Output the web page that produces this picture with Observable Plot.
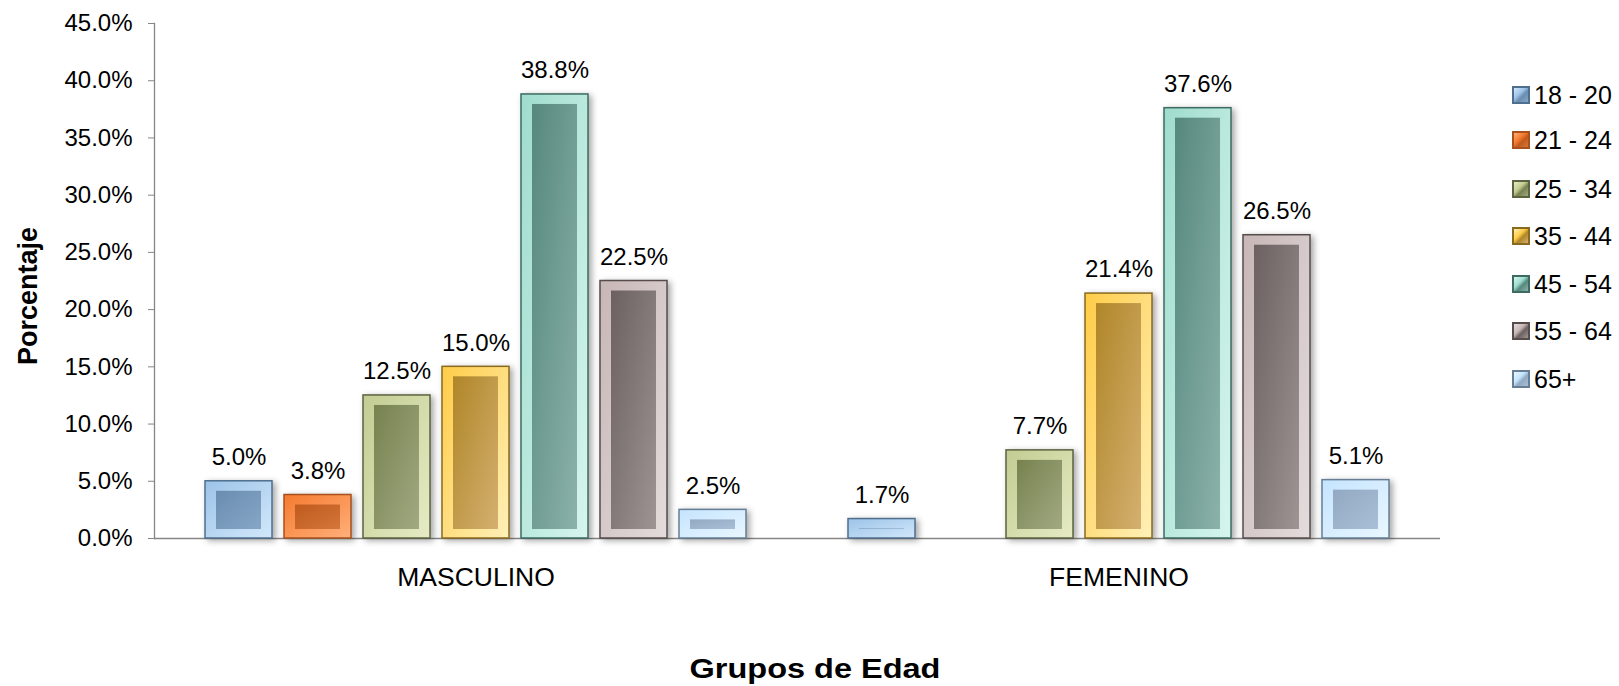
<!DOCTYPE html>
<html><head><meta charset="utf-8">
<script src="https://cdn.jsdelivr.net/npm/d3@7"></script>
<script src="https://cdn.jsdelivr.net/npm/@observablehq/plot@0.6"></script>
<style>
body{margin:0;background:#fff;font-family:"Liberation Sans",Arial,sans-serif;}
#wrap{position:relative;width:1619px;height:686px;overflow:hidden;background:#fff;}
#chart svg{display:block;}
#xtitle{position:absolute;left:815px;top:654px;transform:translateX(-50%) scaleX(1.16);font-weight:bold;font-size:28px;line-height:30px;white-space:nowrap;color:#000;}
#ytitle{position:absolute;left:28px;top:296px;transform:translate(-50%,-50%) rotate(-90deg);font-weight:bold;font-size:27px;line-height:30px;white-space:nowrap;color:#000;}
.leg{position:absolute;left:1512px;height:26px;display:flex;align-items:center;font-size:25px;color:#000;white-space:nowrap;}
.sw{width:14px;height:14px;border:2px solid #555;margin-right:4px;box-sizing:content-box;}
</style>
</head><body>
<div id="wrap"><div id="chart"></div><div id="ytitle">Porcentaje</div><div id="xtitle">Grupos de Edad</div></div>
<script>
const sexes = ["MASCULINO", "FEMENINO"];
const ageGroups = ["18 - 20", "21 - 24", "25 - 34", "35 - 44", "45 - 54", "55 - 64", "65+"];
const masculino = [5.0, 3.8, 12.5, 15.0, 38.8, 22.5, 2.5];
const femenino = [1.7, null, 7.7, 21.4, 37.6, 26.5, 5.1];
const yTicks = [0, 5, 10, 15, 20, 25, 30, 35, 40, 45];

// styles (palette): border, ring light, ring lighter, inner dark, inner mid
const borderColors = ["#4f6f8f", "#a9501c", "#5b6340", "#8a6a1e", "#3d6b62", "#574c4c", "#667f96"];
const ringA = ["#9cc3e8", "#f57a2e", "#c2cc92", "#ffcc48", "#9fdccd", "#c7b6b6", "#c4e4ff"];
const ringB = ["#d2e8fb", "#ffb07c", "#e6ebc4", "#fff0b8", "#d6f5ee", "#e4dcdc", "#eaf7ff"];
const innerA = ["#6a8db0", "#c05a1e", "#77824f", "#b08628", "#56887e", "#6c6060", "#93a9c2"];
const innerB = ["#86a6c6", "#d4763a", "#a2a982", "#d4b070", "#8bb2aa", "#9e9494", "#a9bfd6"];

const rows = [];
sexes.forEach((s, si) => ageGroups.forEach((g, gi) => {
  const v = (si === 0 ? masculino : femenino)[gi];
  if (v != null) rows.push({sex: s, group: g, gi, value: v});
}));

const chart = Plot.plot({
  width: 1619, height: 620,
  marginLeft: 153, marginRight: 179, marginTop: 23, marginBottom: 82,
  style: {fontFamily: '"Liberation Sans", Arial, sans-serif', fontSize: "24px", color: "#000", background: "#fff", overflow: "visible"},
  fx: {domain: sexes, padding: 0, label: null},
  x: {domain: ageGroups, paddingInner: 0.146, paddingOuter: 0.615, axis: null},
  y: {domain: [0, 45], axis: null},
  color: {type: "identity"},
  marks: [
    Plot.axisY({ticks: yTicks, tickSize: 6, tickPadding: 16, tickFormat: d => d.toFixed(1) + "%",
      stroke: "#868686", fill: "#000", fontSize: 24, label: null}),
    Plot.frame({anchor: "left", facetAnchor: "left", stroke: "#868686", strokeWidth: 1.3}),
    Plot.axisFx({anchor: "bottom", tickSize: 0, tickPadding: 29, label: null, fontSize: 26.5, fill: "#000"}),
    Plot.ruleY([0], {stroke: "#868686", strokeWidth: 1.3}),
    Plot.barY(rows, {fx: "sex", x: "group", y: "value", fill: d => `url(#ring${d.gi})`, stroke: d => borderColors[d.gi], strokeWidth: 1.5}),
    Plot.barY(rows, {fx: "sex", x: "group", y: "value", fill: d => `url(#inner${d.gi})`, insetLeft: 11, insetRight: 11, insetTop: 10, insetBottom: 9}),
    Plot.text(rows, {fx: "sex", x: "group", y: "value", text: d => d.value.toFixed(1) + "%", dy: -24, lineAnchor: "middle", fill: "#000", fontSize: 24})
  ]
});

const defs = d3.select(chart).insert("defs", ":first-child");
ageGroups.forEach((g, i) => {
  const r = defs.append("linearGradient").attr("id", "ring" + i).attr("x1", 0).attr("y1", 0).attr("x2", 1).attr("y2", 1);
  r.append("stop").attr("offset", "0%").attr("stop-color", ringA[i]);
  r.append("stop").attr("offset", "100%").attr("stop-color", ringB[i]);
  const n = defs.append("linearGradient").attr("id", "inner" + i).attr("x1", 0).attr("y1", 0).attr("x2", 1).attr("y2", 1);
  n.append("stop").attr("offset", "0%").attr("stop-color", innerA[i]);
  n.append("stop").attr("offset", "100%").attr("stop-color", innerB[i]);
});
d3.select(chart).selectAll("rect").filter(function() {
  return (this.getAttribute("fill") || "").startsWith("url(#ring");
}).style("filter", "drop-shadow(3px 2px 3px rgba(0,0,0,0.35))");

document.getElementById("chart").appendChild(chart);

const legendCenters = [95, 140, 189, 236, 284, 331, 379];
const wrap = document.getElementById("wrap");
ageGroups.forEach((g, i) => {
  const item = document.createElement("div");
  item.className = "leg";
  item.style.top = (legendCenters[i] - 13) + "px";
  const sw = document.createElement("span");
  sw.className = "sw";
  sw.style.borderColor = borderColors[i];
  sw.style.background = `linear-gradient(135deg, ${ringB[i]} 0%, ${ringA[i]} 40%, ${innerA[i]} 60%, ${innerB[i]} 100%)`;
  item.appendChild(sw);
  item.appendChild(document.createTextNode(g));
  wrap.appendChild(item);
});
</script>
</body></html>
